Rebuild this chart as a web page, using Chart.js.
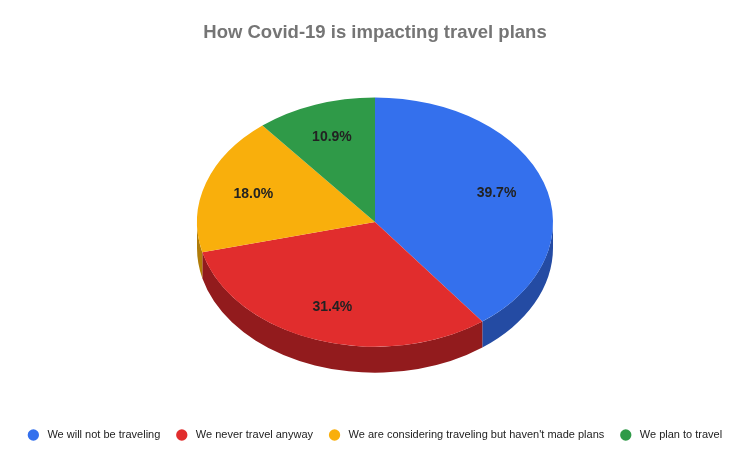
<!DOCTYPE html>
<html>
<head>
<meta charset="utf-8">
<script src="https://cdn.jsdelivr.net/npm/chart.js@4/dist/chart.umd.min.js"></script>
<style>
  html, body { margin: 0; background: #fff; }
  #wrap { width: 750px; height: 464px; }
</style>
</head>
<body>
<div id="wrap"><canvas id="myChart"></canvas></div>
<script>
const labels = ['We will not be traveling', 'We never travel anyway', "We are considering traveling but haven't made plans", 'We plan to travel']
const shares = [39.7, 31.4, 18.0, 10.9]
const topColors = ['#3470ed', '#e12d2d', '#f9af0c', '#2f9a48']
const sideColors = ['#244ba3', '#921b1d', '#b07c08', '#1f6a31']

const tilt = 0.7   // vertical squash of the disc
const depth = 26   // thickness of the side wall, px

// fake 3D: squash the pie drawn by Chart.js and paint the front wall under it
const pie3d = {
    id: 'pie3d',
    beforeDatasetsDraw(chart) {
        const ctx = chart.ctx
        const arcs = chart.getDatasetMeta(0).data
        const { x, y } = arcs[0]
        const cy = y - depth / 2
        arcs.forEach((arc, i) => {
            const { startAngle, endAngle, outerRadius } = arc.getProps(['startAngle', 'endAngle', 'outerRadius'])
            for (let k = -1; k <= 1; k++) {
                const lo = Math.max(startAngle, k * 2 * Math.PI)
                const hi = Math.min(endAngle, k * 2 * Math.PI + Math.PI)
                if (hi <= lo) continue
                ctx.beginPath()
                ctx.ellipse(x, cy, outerRadius, outerRadius * tilt, 0, lo, hi)
                ctx.ellipse(x, cy + depth, outerRadius, outerRadius * tilt, 0, hi, lo, true)
                ctx.closePath()
                ctx.fillStyle = sideColors[i]
                ctx.fill()
            }
        })
        ctx.save()
        ctx.translate(x, cy)
        ctx.scale(1, tilt)
        ctx.translate(-x, -y)
    },
    afterDatasetsDraw(chart) {
        const ctx = chart.ctx
        ctx.restore()
        const arcs = chart.getDatasetMeta(0).data
        ctx.save()
        ctx.font = "bold 14px 'Liberation Sans', Arial, sans-serif"
        ctx.fillStyle = '#222'
        ctx.textAlign = 'center'
        ctx.textBaseline = 'middle'
        arcs.forEach((arc, i) => {
            const { x, y, startAngle, endAngle, outerRadius } = arc.getProps(['x', 'y', 'startAngle', 'endAngle', 'outerRadius'])
            const mid = (startAngle + endAngle) / 2
            const r = outerRadius * 0.72
            const px = x + r * Math.cos(mid)
            const py = y - depth / 2 + r * Math.sin(mid) * tilt
            ctx.fillText(shares[i].toFixed(1) + '%', px, py)
        })
        ctx.restore()
    }
}

const graph = document.getElementById('myChart')

new Chart(graph, {
    type: 'pie',
    data: {
        labels: labels,
        datasets: [{
            data: shares,
            backgroundColor: topColors,
            borderWidth: 0,
            radius: 178,
            clip: false
        }]
    },
    options: {
        responsive: true,
        maintainAspectRatio: false,
        animation: false,
        events: [],
        layout: { padding: { bottom: 13.5 } },
        plugins: {
            title: {
                display: true,
                text: 'How Covid-19 is impacting travel plans',
                color: '#757575',
                font: { family: "'Liberation Sans', Arial, sans-serif", size: 18.5, weight: 'bold' },
                padding: { top: 22, bottom: 12.5 }
            },
            legend: {
                position: 'bottom',
                labels: {
                    usePointStyle: true,
                    pointStyle: 'circle',
                    boxWidth: 11,
                    boxHeight: 8,
                    padding: 16,
                    color: '#222',
                    font: { family: "'Liberation Sans', Arial, sans-serif", size: 11 },
                    // small extra gap between dot and text
                    generateLabels: (chart) => Chart.overrides.pie.plugins.legend.labels.generateLabels(chart)
                        .map(item => ({ ...item, text: ' ' + item.text }))
                }
            },
            tooltip: { enabled: false }
        }
    },
    plugins: [pie3d]
})
</script>
</body>
</html>
